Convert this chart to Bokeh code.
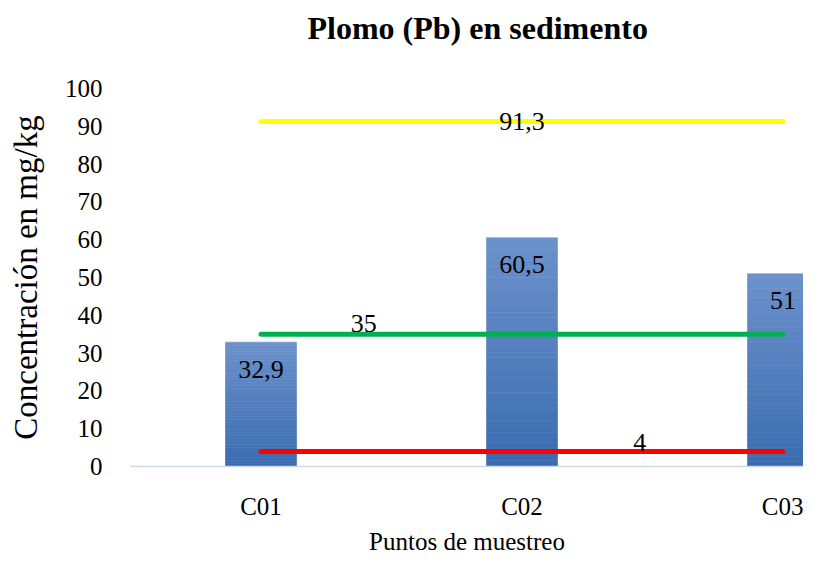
from bokeh.plotting import figure
from bokeh.models import Range1d, FixedTicker, Title
from bokeh.core.properties import value
from bokeh.embed import file_html
from bokeh.resources import INLINE

# ---- data ----
categories = ["C01", "C02", "C03"]
pb_values = [32.9, 60.5, 51.0]
limit_yellow = [91.3, 91.3, 91.3]
limit_green = [35.0, 35.0, 35.0]
limit_red = [4.0, 4.0, 4.0]
y_ticks = [0, 10, 20, 30, 40, 50, 60, 70, 80, 90, 100]


def fmt(v):
    return f"{v:g}".replace(".", ",")


FONT = "Liberation Serif"
xc = [i + 1 for i in range(len(categories))]

W, H = 803, 558
LEFT, TOP, BOTTOM = 130, 88, 92
px_per_cat = 261.0
frame_w = W - LEFT

p = figure(width=W, height=H, output_backend="svg", toolbar_location=None,
           x_range=Range1d(0.5, 0.5 + frame_w / px_per_cat),
           y_range=Range1d(0, 100),
           min_border_left=LEFT, min_border_right=0,
           min_border_top=TOP, min_border_bottom=BOTTOM)
p.outline_line_color = None
p.grid.visible = False
p.background_fill_color = "white"
p.border_fill_color = "white"

# spacer between title and frame
p.add_layout(Title(text=" ", text_font_size="1px", standoff=40), "above")
p.add_layout(Title(text="Plomo (Pb) en sedimento", text_font=FONT,
                   text_font_style="bold", text_font_size="32px",
                   text_color="black", align="left", offset=177,
                   standoff=0), "above")

# gradient bars (each bar split into slices, light at top, dark at bottom)
top_rgb = (108, 145, 203)
bot_rgb = (58, 108, 176)
N = 40
bar_w = 71.0 / px_per_cat
for k in range(N):
    f = (k + 0.5) / N
    c = "#%02x%02x%02x" % tuple(int(round(b + (t - b) * f)) for t, b in zip(top_rgb, bot_rgb))
    p.vbar(x=xc, width=bar_w,
           bottom=[v * k / N for v in pb_values],
           top=[v * (k + 1) / N for v in pb_values],
           fill_color=c, line_color=c, line_width=0.6)

# limit lines
p.line(xc, limit_yellow, line_color="#FFFF00", line_width=5, line_cap="round")
p.line(xc, limit_green, line_color="#00B050", line_width=5, line_cap="round")
p.line(xc, limit_red, line_color="#FF0000", line_width=5, line_cap="round")

# bar labels
p.text(x=xc, y=pb_values, text=[fmt(v) for v in pb_values],
       text_align="center", text_baseline="middle", y_offset=27,
       text_font=value(FONT), text_font_size="26px", text_color="black")

# line labels
p.text(x=[xc[1]], y=[limit_yellow[1]], text=[fmt(limit_yellow[1])],
       text_align="center", text_baseline="middle", y_offset=0,
       text_font=value(FONT), text_font_size="26px", text_color="black")
p.text(x=[1.394], y=[limit_green[0]], text=[fmt(limit_green[0])],
       text_align="center", text_baseline="middle", y_offset=-11,
       text_font=value(FONT), text_font_size="26px", text_color="black")
p.text(x=[2.451], y=[limit_red[0]], text=[fmt(limit_red[0])],
       text_align="center", text_baseline="middle", y_offset=-9,
       text_font=value(FONT), text_font_size="26px", text_color="black")

# axes
p.xaxis.ticker = FixedTicker(ticks=xc)
p.xaxis.major_label_overrides = {x: c for x, c in zip(xc, categories)}
p.xaxis.axis_line_color = "#C9D8EE"
p.xaxis.axis_line_width = 1.5
p.xaxis.major_tick_line_color = None
p.xaxis.minor_tick_line_color = None
p.xaxis.major_label_standoff = 20
p.xaxis.major_label_text_font = FONT
p.xaxis.major_label_text_font_size = "25px"
p.xaxis.major_label_text_color = "black"
p.xaxis.axis_label = "Puntos de muestreo"
p.xaxis.axis_label_text_font = FONT
p.xaxis.axis_label_text_font_size = "25px"
p.xaxis.axis_label_text_font_style = "normal"
p.xaxis.axis_label_text_color = "black"
p.xaxis.axis_label_standoff = 5

p.yaxis.ticker = FixedTicker(ticks=y_ticks)
p.yaxis.axis_line_color = None
p.yaxis.major_tick_line_color = None
p.yaxis.minor_tick_line_color = None
p.yaxis.major_label_standoff = 22
p.yaxis.major_label_text_font = FONT
p.yaxis.major_label_text_font_size = "25px"
p.yaxis.major_label_text_color = "black"
p.yaxis.axis_label = "Concentración en mg/kg"
p.yaxis.axis_label_text_font = FONT
p.yaxis.axis_label_text_font_size = "33px"
p.yaxis.axis_label_text_font_style = "normal"
p.yaxis.axis_label_text_color = "black"
p.yaxis.axis_label_standoff = 18

open("out.html", "w").write(file_html(p, INLINE))
